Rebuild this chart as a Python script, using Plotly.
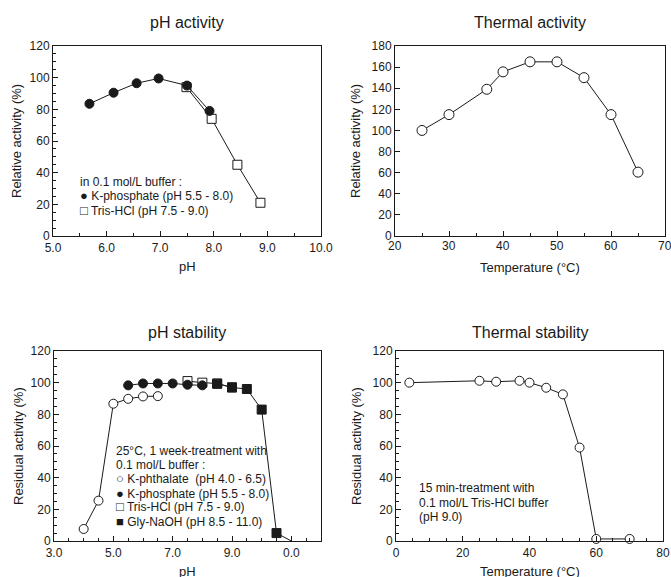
import plotly.graph_objects as go

# --- data -------------------------------------------------------------------
# pH activity
act_kphos_ph = [5.68, 6.13, 6.56, 6.97, 7.50, 7.92]
act_kphos_rel = [83.5, 90.5, 96.5, 99.5, 95.0, 79.0]
act_tris_ph = [7.49, 7.96, 8.44, 8.87]
act_tris_rel = [94.0, 74.0, 45.0, 21.0]

# Thermal activity
temp_act = [25, 30, 37, 40, 45, 50, 55, 60, 65]
temp_act_rel = [100, 115, 139, 155.5, 165, 165, 150, 115, 60.5]
temp_act_ticks = [20, 30, 40, 50, 60, 70]

# pH stability
stab_phthal_ph = [4.0, 4.5, 5.0, 5.5, 6.0, 6.5]
stab_phthal_res = [7.6, 25.5, 86.7, 89.8, 91.3, 91.5]
stab_kphos_ph = [5.5, 6.0, 6.5, 7.0, 7.5, 8.0]
stab_kphos_res = [98.3, 99.5, 99.5, 99.5, 98.7, 98.3]
stab_tris_ph = [7.5, 8.0, 8.5, 9.0]
stab_tris_res = [101.0, 100.0, 99.5, 97.0]
stab_gly_ph = [8.5, 9.0, 9.5, 10.0, 10.5, 11.0]
stab_gly_res = [99.3, 97.0, 96.0, 83.0, 5.0, 0.0]

# Thermal stability
temp_stab = [4, 25, 30, 37, 40, 45, 50, 55, 60, 70]
temp_stab_res = [100, 101.2, 100.6, 101.2, 100, 96.8, 92.6, 59, 1.3, 1.3]

stab_ph_ticks = [3, 5, 7, 9, 11]
stab_ph_ticktext = ["3.0", "5.0", "7.0", "9.0", "0.0"]

FONT = "Liberation Sans, Arial, sans-serif"
INK = "#1a1a1a"
# body margin is removed in the page; the paper runs a little past the window
# on the right so the last tick label gets cut by the window like the original
W, H = 690, 577


def px(x):
    return x / W


def py(y):
    return 1 - y / H


def dom_x(a, b):
    return [px(a), px(b)]


def dom_y(top, bottom):
    return [py(bottom), py(top)]


def series(x, y, xa, ya, symbol, fill, size=9, sizes=None):
    return go.Scatter(
        x=x, y=y, xaxis=xa, yaxis=ya, mode="lines+markers",
        line=dict(color=INK, width=1),
        marker=dict(symbol=symbol, size=sizes if sizes else size, opacity=1,
                    color=fill, line=dict(color=INK, width=1)),
        cliponaxis=False, showlegend=False, hoverinfo="x+y",
    )


def axis(domain, rng, dtick, minor, anchor, **kw):
    return dict(
        domain=domain, range=rng, dtick=dtick, anchor=anchor, automargin=False,
        showline=True, linecolor=INK, linewidth=1, mirror=True,
        ticks="inside", ticklen=5, tickcolor=INK, tickwidth=1,
        minor=dict(dtick=minor, ticks="inside", ticklen=3, tickcolor=INK),
        showgrid=False, zeroline=False, ticklabeloverflow="allow",
        tickfont=dict(size=12, color=INK),
        **kw,
    )


fig = go.Figure()

# top-left: pH activity
fig.add_trace(series(act_tris_ph, act_tris_rel, "x", "y", "square", "white"))
fig.add_trace(series(act_kphos_ph, act_kphos_rel, "x", "y", "circle", INK))
# top-right: thermal activity
fig.add_trace(series(temp_act, temp_act_rel, "x2", "y2", "circle", "white", size=10))
# bottom-left: pH stability
fig.add_trace(series(stab_phthal_ph, stab_phthal_res, "x3", "y3", "circle", "white"))
fig.add_trace(series(stab_tris_ph, stab_tris_res, "x3", "y3", "square", "white"))
fig.add_trace(series(stab_kphos_ph, stab_kphos_res, "x3", "y3", "circle", INK))
fig.add_trace(series(stab_gly_ph, stab_gly_res, "x3", "y3", "square", INK,
                     sizes=[9, 9, 9, 9, 9, 0]))
# bottom-right: thermal stability
fig.add_trace(series(temp_stab, temp_stab_res, "x4", "y4", "circle", "white"))

fig.update_layout(
    width=W, height=H,
    margin=dict(l=0, r=0, t=0, b=0),
    paper_bgcolor="white", plot_bgcolor="white",
    font=dict(family=FONT, color=INK),
    xaxis=axis(dom_x(53, 321), [5, 10], 1, 0.5, "y", tickformat=".1f", ticklabelstandoff=1),
    yaxis=axis(dom_y(46, 236), [0, 120], 20, 5, "x"),
    # the last label of this axis is hidden by plotly at the window edge,
    # so its labels are drawn below as annotations instead
    xaxis2=axis(dom_x(395, 665), [20, 70], None, 5, "y2",
                tickvals=temp_act_ticks, showticklabels=False),
    yaxis2=axis(dom_y(46, 236), [0, 180], 20, 20, "x2"),
    xaxis3=axis(dom_x(54, 321), [3, 12], None, 0.5, "y3", ticklabelstandoff=1,
                tickvals=stab_ph_ticks, ticktext=stab_ph_ticktext),
    yaxis3=axis(dom_y(351, 541), [0, 120], 20, 5, "x3"),
    xaxis4=axis(dom_x(396, 663), [0, 80], 20, 5, "y4", ticklabelstandoff=1),
    yaxis4=axis(dom_y(351, 541), [0, 120], 20, 5, "x4"),
)

for v in temp_act_ticks:
    fig.add_annotation(text=str(v), x=v, y=py(246), xref="x2", yref="paper",
                       showarrow=False, font=dict(size=12, color=INK),
                       xanchor="center", yanchor="middle")


def label(text, x, y, size=13, angle=0):
    fig.add_annotation(text=text, x=px(x), y=py(y), xref="paper", yref="paper",
                       showarrow=False, textangle=angle, font=dict(size=size, color=INK),
                       xanchor="center", yanchor="middle")


# panel titles
label("pH activity", 187, 23, size=16)
label("Thermal activity", 530, 23, size=16)
label("pH stability", 187, 332, size=16)
label("Thermal stability", 530, 332, size=16)
# axis titles
label("pH", 187, 266)
label("Relative activity (%)", 17, 141, angle=-90)
label("Temperature (°C)", 530, 267)
label("Relative activity (%)", 356, 141, angle=-90)
label("pH", 187, 571)
label("Residual activity (%)", 18, 446, angle=-90)
label("Temperature (°C)", 530, 571)
label("Residual activity (%)", 356, 446, angle=-90)


def glyph(ch):
    return '<span style="font-size:13px">' + ch + "</span>"


notes = [
    ("x", "y", 5.47, [
        ("in 0.1 mol/L buffer :", 34.1),
        (glyph("●") + " K-phosphate (pH 5.5 - 8.0)", 25.3),
        (glyph("□") + " Tris-HCl (pH 7.5 - 9.0)", 16.4),
    ]),
    ("x3", "y3", 5.03, [
        ("25°C, 1 week-treatment with", 56.8),
        ("0.1 mol/L buffer :", 48.3),
        (glyph("○") + " K-phthalate  (pH 4.0 - 6.5)", 39.2),
        (glyph("●") + " K-phosphate (pH 5.5 - 8.0)", 30.3),
        (glyph("□") + " Tris-HCl (pH 7.5 - 9.0)", 21.5),
        (glyph("■") + " Gly-NaOH (pH 8.5 - 11.0)", 12.6),
    ]),
    ("x4", "y4", 6.3, [
        ("15 min-treatment with", 33.5),
        ("0.1 mol/L Tris-HCl buffer", 24.2),
        ("(pH 9.0)", 15.3),
    ]),
]
for xr, yr, xv, lines in notes:
    for text, yv in lines:
        fig.add_annotation(text=text, x=xv, y=yv, xref=xr, yref=yr, showarrow=False,
                           align="left", xanchor="left", yanchor="middle",
                           font=dict(size=12, color=INK))

fig.write_html(
    "out.html",
    config={"displayModeBar": False},
    post_script="document.body.style.margin='0';document.body.style.overflow='hidden';",
)
